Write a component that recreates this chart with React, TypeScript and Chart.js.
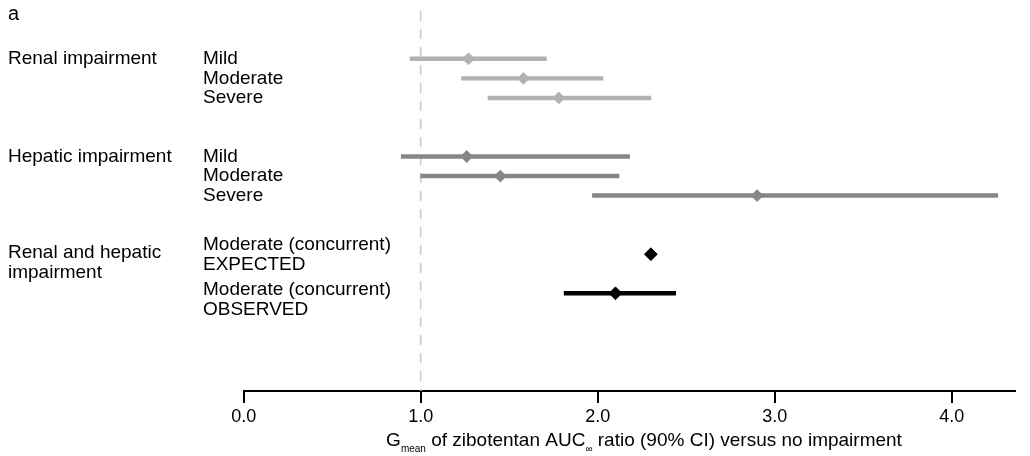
import React, { useEffect, useRef } from "react";
import { Chart, registerables } from "chart.js";

Chart.register(...registerables);

// ---- data ----
const panelLabel = "a";
const groupLabels = ["Renal impairment", "Hepatic impairment", "Renal and hepatic\nimpairment"];
const groupRows = [0, 5, 10];
const rowLabels = [
  "Mild",
  "Moderate",
  "Severe",
  "Mild",
  "Moderate",
  "Severe",
  "Moderate (concurrent)\nEXPECTED",
  "Moderate (concurrent)\nOBSERVED",
];
const rowPos = [0, 1, 2, 5, 6, 7, 10, 12];
const rowGroup = [0, 0, 0, 1, 1, 1, 2, 2];
const gmean = [1.27, 1.58, 1.78, 1.26, 1.45, 2.9, 2.3, 2.1];
const ciLow: (number | null)[] = [0.94, 1.23, 1.38, 0.89, 1.0, 1.97, null, 1.81];
const ciHigh: (number | null)[] = [1.71, 2.03, 2.3, 2.18, 2.12, 4.26, null, 2.44];
const xTicks = [0, 1, 2, 3, 4];
const refValue = 1;

// ---- styles ----
const groupColors = ["#b2b2b2", "#868686", "#000000"];
const FONT = "'Liberation Sans', Arial, Helvetica, sans-serif";
const LABEL_SIZE = 19;
const ROW_LABEL_X = 203;
const GROUP_LABEL_X = 8;
// vertical shift (in row units) of multi-line labels
const rowLabelShift = [0, 0, 0, 0, 0, 0, 0, 0.3];
const groupLabelShift = [0, 0, 0.45];

const labelsPlugin = {
  id: "forestLabels",
  beforeDatasetsDraw(chart: any) {
    const { ctx, chartArea, scales } = chart;
    const x = scales.x.getPixelForValue(refValue);
    ctx.save();
    ctx.strokeStyle = "#c9c9c9";
    ctx.lineWidth = 1.6;
    ctx.setLineDash([10, 8]);
    ctx.beginPath();
    ctx.moveTo(x, chartArea.top + 2);
    ctx.lineTo(x, chartArea.bottom);
    ctx.stroke();
    ctx.restore();
  },
  afterDraw(chart: any) {
    const { ctx, scales } = chart;
    const y = scales.y;
    const unit = Math.abs(y.getPixelForValue(1) - y.getPixelForValue(0));
    ctx.save();
    ctx.fillStyle = "#000";
    ctx.textBaseline = "middle";
    ctx.textAlign = "left";

    // panel letter
    ctx.font = `20px ${FONT}`;
    ctx.fillText(panelLabel, 8, 14);
    ctx.font = `${LABEL_SIZE}px ${FONT}`;

    const drawLines = (text: string, px: number, row: number, shift: number) => {
      const lines = text.split("\n");
      const base = y.getPixelForValue(row) + shift * unit - ((lines.length - 1) * unit) / 2;
      lines.forEach((ln, i) => ctx.fillText(ln, px, base + i * unit * 1.02));
    };
    groupLabels.forEach((g, i) => drawLines(g, GROUP_LABEL_X, groupRows[i], groupLabelShift[i]));
    rowLabels.forEach((r, i) => drawLines(r, ROW_LABEL_X, rowPos[i], rowLabelShift[i]));

    // axis title with subscripts
    const parts: [string, boolean][] = [
      ["G", false],
      ["mean", true],
      [" of zibotentan AUC", false],
      ["\u221E", true],
      [" ratio (90% CI) versus no impairment", false],
    ];
    const mainFont = `${LABEL_SIZE}px ${FONT}`;
    const subFont = `10px ${FONT}`;
    let total = 0;
    parts.forEach(([t, sub]) => {
      ctx.font = sub ? subFont : mainFont;
      total += ctx.measureText(t).width;
    });
    const center = 644;
    let cx = center - total / 2;
    const baseY = 446;
    ctx.textBaseline = "alphabetic";
    parts.forEach(([t, sub]) => {
      ctx.font = sub ? subFont : mainFont;
      ctx.fillText(t, cx, sub ? baseY + 6 : baseY);
      cx += ctx.measureText(t).width;
    });
    ctx.restore();
  },
};

export default function App() {
  const ref = useRef<HTMLCanvasElement | null>(null);

  useEffect(() => {
    document.body.style.margin = "0";
    const canvas = ref.current;
    if (!canvas) return;

    const ciIdx = rowPos.map((_, i) => i).filter((i) => ciLow[i] != null && ciHigh[i] != null);

    const chart = new Chart(canvas, {
      type: "bar",
      data: {
        datasets: [
          {
            type: "bar",
            order: 2,
            data: ciIdx.map((i) => ({ x: [ciLow[i], ciHigh[i]], y: rowPos[i] })) as any,
            backgroundColor: ciIdx.map((i) => groupColors[rowGroup[i]]),
            borderWidth: 0,
            barThickness: 3.8,
          } as any,
          {
            type: "scatter",
            order: 1,
            data: rowPos.map((p, i) => ({ x: gmean[i], y: p })),
            pointStyle: "rectRot",
            pointRadius: rowGroup.map((g) => (g === 2 ? 6.4 : 5.9)),
            pointBackgroundColor: rowGroup.map((g) => groupColors[g]),
            pointBorderColor: rowGroup.map((g) => groupColors[g]),
            pointBorderWidth: 1,
          } as any,
        ],
      },
      options: {
        indexAxis: "y",
        animation: false,
        responsive: false,
        maintainAspectRatio: false,
        events: [],
        layout: { padding: { left: 243.7, right: 15, top: 9, bottom: 25.4 } },
        plugins: {
          legend: { display: false },
          tooltip: { enabled: false },
          title: { display: false },
        },
        scales: {
          x: {
            type: "linear",
            position: "bottom",
            offset: false,
            min: 0,
            max: 4.357,
            afterBuildTicks: (s: any) => {
              s.ticks = xTicks.map((v) => ({ value: v }));
            },
            ticks: {
              callback: (v: any) => Number(v).toFixed(1),
              font: { family: FONT, size: 18 },
              color: "#000",
              padding: 3,
              maxRotation: 0,
              autoSkip: false,
            },
            grid: {
              drawOnChartArea: false,
              drawTicks: true,
              tickLength: 12,
              color: "#000",
              lineWidth: 2,
              offset: false,
            },
            border: { display: true, color: "#000", width: 2 },
          },
          y: {
            type: "linear",
            min: -2.55,
            max: 17,
            reverse: true,
            offset: false,
            display: false,
            grid: { offset: false },
          },
        },
      } as any,
      plugins: [labelsPlugin],
    });

    return () => chart.destroy();
  }, []);

  return (
    <div style={{ width: 1030, height: 456 }}>
      <canvas ref={ref} width={1030} height={456} style={{ display: "block" }} />
    </div>
  );
}
